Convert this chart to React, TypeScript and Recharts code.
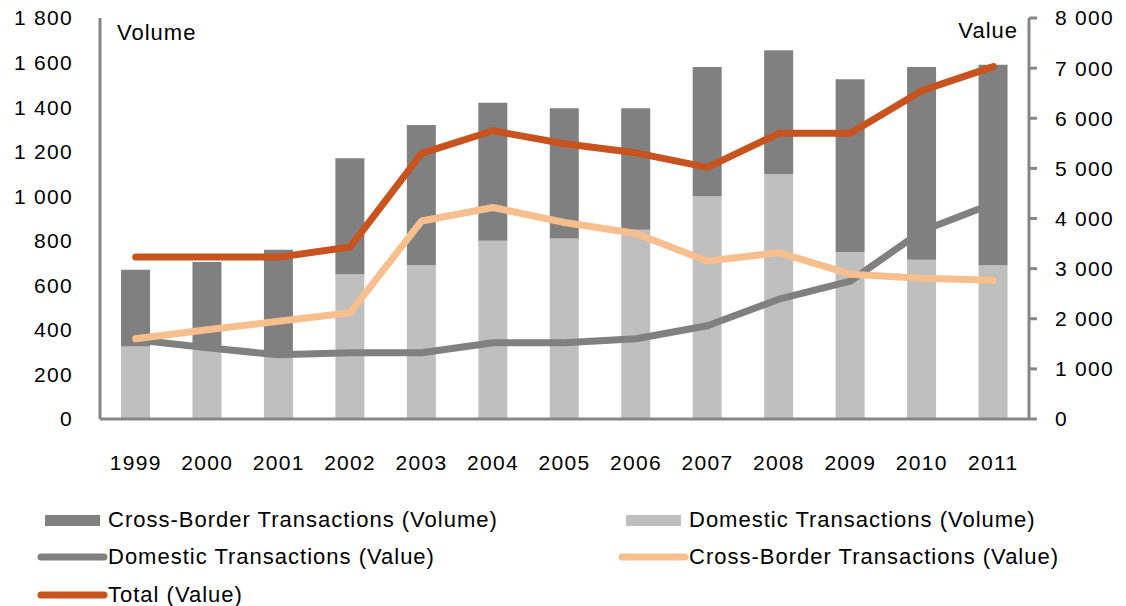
import React from "react";
import { ComposedChart, Bar, Line, XAxis, YAxis } from "recharts";

const years = ["1999", "2000", "2001", "2002", "2003", "2004", "2005", "2006", "2007", "2008", "2009", "2010", "2011"];

// volume (left axis)
const domesticVolume = [325, 320, 300, 650, 690, 800, 810, 850, 1000, 1100, 750, 715, 690];
const crossBorderVolume = [345, 385, 460, 520, 630, 620, 585, 545, 580, 555, 775, 865, 900];

// value (right axis)
const domesticValue = [1580, 1420, 1280, 1320, 1320, 1520, 1520, 1600, 1860, 2390, 2750, 3750, 4300];
const crossBorderValue = [1600, 1780, 1950, 2120, 3950, 4220, 3920, 3700, 3150, 3320, 2890, 2810, 2770];
const totalValue = [3230, 3230, 3230, 3430, 5300, 5750, 5490, 5310, 5020, 5700, 5700, 6550, 7030];

const volumeTicks = [0, 200, 400, 600, 800, 1000, 1200, 1400, 1600, 1800];
const valueTicks = [0, 1000, 2000, 3000, 4000, 5000, 6000, 7000, 8000];

const DARK = "#808080";
const LIGHT = "#bfbfbf";
const PEACH = "#f8bf8e";
const RUST = "#c8531f";
const AXIS = "#868686";
const FONT = "'Liberation Sans', Arial, sans-serif";

const data = years.map((y, i) => ({
  year: y,
  domVol: domesticVolume[i],
  cbVol: crossBorderVolume[i],
  domVal: domesticValue[i],
  cbVal: crossBorderValue[i],
  total: totalValue[i],
}));

const fmt = (v: number) => String(v).replace(/\B(?=(\d{3})+(?!\d))/g, " ");

const tickStyle = { fill: "#000", fontSize: 21, fontFamily: FONT, letterSpacing: 1.3 };
const textStyle = { fontSize: 22, letterSpacing: 1, fontFamily: FONT, color: "#000", whiteSpace: "nowrap" as const };

function LegendItem({ kind, color, label, x, y }: { kind: "rect" | "line"; color: string; label: string; x: number; y: number }) {
  return (
    <div style={{ position: "absolute", left: x, top: y - 13, height: 26, display: "flex", alignItems: "center" }}>
      {kind === "rect" ? (
        <svg width={68} height={26}>
          <rect x={5} y={8} width={55} height={11} fill={color} />
        </svg>
      ) : (
        <svg width={71} height={26}>
          <line x1={4} y1={13} x2={67} y2={13} stroke={color} strokeWidth={7} strokeLinecap="round" />
        </svg>
      )}
      <span style={textStyle}>{label}</span>
    </div>
  );
}

export default function App() {
  return (
    <div style={{ position: "relative", margin: "-8px 0 0 -8px", width: 1126, height: 606, background: "#fff", fontFamily: FONT }}>
      <ComposedChart width={1126} height={480} data={data} margin={{ top: 18, right: 0, left: 0, bottom: 0 }} barSize={29}>
        <XAxis
          dataKey="year"
          height={61}
          tickLine={false}
          tickSize={0}
          tickMargin={36}
          axisLine={{ stroke: AXIS, strokeWidth: 3 }}
          tick={tickStyle}
          interval={0}
        />
        <YAxis
          yAxisId="vol"
          width={100}
          domain={[0, 1800]}
          ticks={volumeTicks}
          tickFormatter={fmt}
          tickLine={false}
          tickSize={0}
          tickMargin={27}
          axisLine={{ stroke: AXIS, strokeWidth: 3 }}
          tick={tickStyle}
          interval={0}
        />
        <YAxis
          yAxisId="val"
          orientation="right"
          width={97}
          domain={[0, 8000]}
          ticks={valueTicks}
          tickFormatter={fmt}
          tickLine={{ stroke: AXIS, strokeWidth: 3 }}
          tickSize={8}
          tickMargin={18}
          axisLine={{ stroke: AXIS, strokeWidth: 3 }}
          tick={tickStyle}
          interval={0}
        />
        <Bar yAxisId="vol" dataKey="domVol" stackId="v" fill={LIGHT} isAnimationActive={false} />
        <Bar yAxisId="vol" dataKey="cbVol" stackId="v" fill={DARK} isAnimationActive={false} />
        <Line yAxisId="val" type="linear" dataKey="domVal" stroke={DARK} strokeWidth={7} strokeLinecap="round" strokeLinejoin="round" dot={false} isAnimationActive={false} />
        <Line yAxisId="val" type="linear" dataKey="cbVal" stroke={PEACH} strokeWidth={7} strokeLinecap="round" strokeLinejoin="round" dot={false} isAnimationActive={false} />
        <Line yAxisId="val" type="linear" dataKey="total" stroke={RUST} strokeWidth={7} strokeLinecap="round" strokeLinejoin="round" dot={false} isAnimationActive={false} />
      </ComposedChart>

      <div style={{ ...textStyle, position: "absolute", left: 117, top: 20 }}>Volume</div>
      <div style={{ ...textStyle, position: "absolute", right: 1126 - 1018, top: 18 }}>Value</div>

      <LegendItem kind="rect" color={DARK} label="Cross-Border Transactions (Volume)" x={40} y={520} />
      <LegendItem kind="rect" color={LIGHT} label="Domestic Transactions (Volume)" x={621} y={520} />
      <LegendItem kind="line" color={DARK} label="Domestic Transactions (Value)" x={37} y={557} />
      <LegendItem kind="line" color={PEACH} label="Cross-Border Transactions (Value)" x={618} y={557} />
      <LegendItem kind="line" color={RUST} label="Total (Value)" x={37} y={595} />
    </div>
  );
}
